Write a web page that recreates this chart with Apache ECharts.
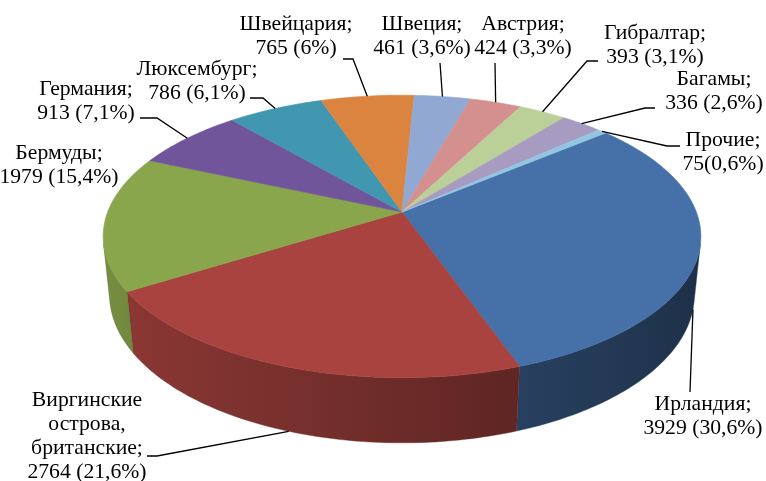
<!DOCTYPE html>
<html>
<head>
<meta charset="utf-8">
<script src="https://cdn.jsdelivr.net/npm/echarts@6/dist/echarts.min.js"></script>
<style>
  html, body { margin: 0; padding: 0; background: #ffffff; }
  #chart { width: 766px; height: 481px; }
</style>
</head>
<body>
<div id="chart"></div>
<script>
// ---------------- DATA ----------------
const names = ['Ирландия', 'Виргинские\nострова,\nбританские', 'Бермуды', 'Германия', 'Люксембург',
  'Швейцария', 'Швеция', 'Австрия', 'Гибралтар', 'Багамы', 'Прочие'];
const values = [3929, 2764, 1979, 913, 786, 765, 461, 424, 393, 336, 75];
const percents = ['30,6%', '21,6%', '15,4%', '7,1%', '6,1%', '6%', '3,6%', '3,3%', '3,1%', '2,6%', '0,6%'];
const valueGaps = [' ', ' ', ' ', ' ', ' ', ' ', ' ', ' ', ' ', ' ', ''];

// ---------------- STYLE / LAYOUT ----------------
const topColors = ['#4671A8', '#A8433F', '#8AA64C', '#70559A', '#4297B0', '#DA8440',
  '#91A9D2', '#D3908F', '#BAD098', '#A89BC2', '#92C6E0'];
// label first-line centre [x, y]
const labelPos = [[703, 404], [87, 400], [59, 153], [86, 89], [197, 69], [296, 24],
  [422, 24], [523, 24], [655, 33], [714, 79], [723, 140]];
// leader points on the label side; the pie end is computed from the slice
const leaderPts = [[[690, 392]], [[147, 456], [157, 456]], null, [[140, 118], [157, 118]],
  [[250, 98], [263, 98]], [[343, 59], [353, 59]], [[440, 63]], [[495, 63]],
  [[598, 61], [587, 61]], [[655, 108], [645, 108]], [[680, 146], [667, 146]]];
const leaderEnd = ['bottom', 'bottom', null, 'top', 'top', 'top', 'top', 'top', 'top', 'top', 'top'];

// 3D projection parameters
const CX = 402, CY = 212, TILT = 28.2 * Math.PI / 180;
const S = Math.sin(TILT), C = Math.cos(TILT);
const DIST = 5.088, FOC = 1475.5, KX = 1.015, DEPTH = 0.23;
const START = 50.2; // first slice angle (deg, clockwise from back)
const FONT_FAMILY = 'Liberation Serif';
const FONT_SIZE = 22;
const TEXT_SCALE_X = 0.985;

function proj(phiDeg, h) {
  const r = phiDeg * Math.PI / 180;
  const x = Math.sin(r), z = -Math.cos(r);
  const u = h * C - z * S;
  const w = z * C + h * S;
  const k = FOC / (DIST - w);
  return [CX + KX * x * k, CY - u * k];
}
function shade(hex, f) {
  const n = parseInt(hex.slice(1), 16);
  const r = Math.round(((n >> 16) & 255) * f), g = Math.round(((n >> 8) & 255) * f), b = Math.round((n & 255) * f);
  return 'rgb(' + r + ',' + g + ',' + b + ')';
}
const total = values.reduce((a, b) => a + b, 0);
const startAngles = [];
{ let acc = START; values.forEach(v => { startAngles.push(acc); acc += v / total * 360; }); }
const cosLim = -1 / (DIST * C);
const visA = Math.acos(cosLim) * 180 / Math.PI;
const visB = 360 - visA;

function renderItem(params, api) {
  const i = params.dataIndex;
  const a0 = startAngles[i];
  const a1 = a0 + api.value(0) / total * 360;
  const children = [];
  const topPts = [[CX, CY]];
  const steps = Math.max(2, Math.ceil(a1 - a0));
  for (let s = 0; s <= steps; s++) topPts.push(proj(a0 + (a1 - a0) * s / steps, 0));
  children.push({ type: 'polygon', z2: 50, shape: { points: topPts },
    style: { fill: topColors[i], stroke: topColors[i], lineWidth: 0.6 } });
  let w0 = Math.max(a0, visA), w1 = Math.min(a1, visB);
  if (w1 > w0) {
    const ws = Math.max(2, Math.ceil(w1 - w0));
    const upper = [], lower = [];
    for (let s = 0; s <= ws; s++) {
      const a = w0 + (w1 - w0) * s / ws;
      upper.push(proj(a, 0));
      lower.push(proj(a, -DEPTH));
    }
    const pts = upper.concat(lower.reverse());
    const xs = pts.map(p => p[0]);
    const xmin = Math.min.apply(null, xs), xmax = Math.max.apply(null, xs);
    const stops = [];
    for (let s = 0; s <= 6; s++) {
      const a = w0 + (w1 - w0) * s / 6;
      const px = proj(a, -DEPTH / 2)[0];
      const f = 0.64 - 0.22 * Math.sin(a * Math.PI / 180);
      stops.push({ offset: Math.min(1, Math.max(0, (px - xmin) / Math.max(1, xmax - xmin))), color: shade(topColors[i], f) });
    }
    stops.sort((p, q) => p.offset - q.offset);
    children.push({ type: 'polygon', z2: 10, shape: { points: pts },
      style: { fill: { type: 'linear', x: xmin, y: 0, x2: xmax, y2: 0, global: true, colorStops: stops },
        stroke: shade(topColors[i], 0.6), lineWidth: 0.4 } });
  }
  if (leaderPts[i]) {
    const mid = (a0 + a1) / 2;
    const end = proj(mid, leaderEnd[i] === 'bottom' ? -DEPTH : 0);
    children.push({ type: 'polyline', z2: 80, shape: { points: leaderPts[i].concat([end]) },
      style: { stroke: '#000000', lineWidth: 1.3, fill: null } });
  }
  const txt = names[i] + ';\n' + values[i] + valueGaps[i] + '(' + percents[i] + ')';
  children.push({ type: 'text', z2: 90, x: labelPos[i][0], y: labelPos[i][1] - 12, scaleX: TEXT_SCALE_X,
    style: { x: 0, y: 0, text: txt, fontFamily: FONT_FAMILY, fontSize: FONT_SIZE, fontWeight: 'normal',
      fill: '#000000', align: 'center', verticalAlign: 'top', lineHeight: 24 } });
  return { type: 'group', children: children };
}

const chart = echarts.init(document.getElementById('chart'), null, { renderer: 'canvas' });
chart.setOption({
  backgroundColor: '#ffffff',
  animation: false,
  series: [{
    type: 'custom',
    coordinateSystem: 'none',
    renderItem: renderItem,
    data: values.map((v, i) => ({ name: names[i], value: [v] }))
  }]
});
</script>
</body>
</html>
